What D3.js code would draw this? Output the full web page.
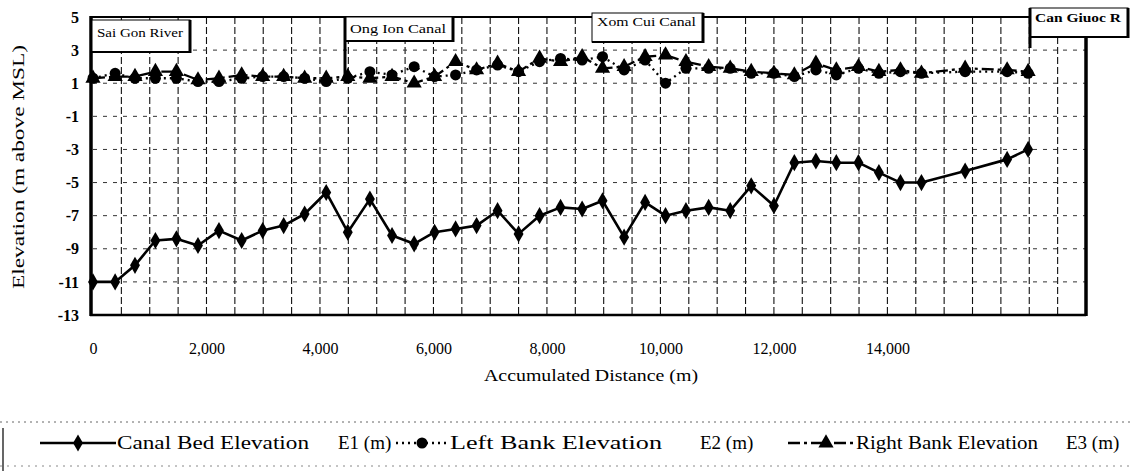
<!DOCTYPE html>
<html><head><meta charset="utf-8">
<script src="https://cdn.jsdelivr.net/npm/d3@7"></script>
<style>
html,body{margin:0;padding:0;background:#fff;}
svg text{font-family:"Liberation Serif","Times New Roman",Tinos,"DejaVu Serif",serif !important;}
</style></head>
<body><svg id="c" width="1130" height="471"></svg>
<script>
// Accumulated distance (m) of each cross-section
const distance = [0,390,740,1100,1470,1850,2220,2620,2990,3360,3730,4110,4490,4880,5270,5660,6020,6390,6760,7130,7500,7870,8240,8620,8980,9360,9730,10090,10450,10850,11230,11600,12000,12360,12740,13100,13490,13850,14230,14600,15370,16110,16480];
// Canal bed elevation E1 (m)
const bedE1 = [-11.0,-11.0,-10.0,-8.5,-8.4,-8.8,-7.9,-8.5,-7.9,-7.6,-6.9,-5.6,-8.0,-6.0,-8.2,-8.7,-8.0,-7.8,-7.6,-6.7,-8.1,-7.0,-6.5,-6.6,-6.1,-8.3,-6.2,-7.0,-6.7,-6.5,-6.7,-5.2,-6.4,-3.8,-3.7,-3.8,-3.8,-4.4,-5.0,-5.0,-4.3,-3.6,-3.0];
// Left bank elevation E2 (m)
const leftE2 = [1.3,1.6,1.3,1.3,1.3,1.1,1.1,1.3,1.4,1.4,1.3,1.1,1.3,1.7,1.5,2.0,1.4,1.5,1.8,2.1,1.7,2.3,2.5,2.4,2.6,1.8,2.4,1.0,1.9,1.9,1.9,1.6,1.6,1.4,1.8,1.5,1.9,1.6,1.7,1.6,1.7,1.7,1.6];
// Right bank elevation E3 (m)
const rightE3 = [1.3,1.4,1.4,1.7,1.7,1.2,1.3,1.5,1.4,1.4,1.3,1.3,1.4,1.3,1.4,1.0,1.4,2.3,1.8,2.2,1.7,2.5,2.3,2.6,1.9,2.0,2.6,2.7,2.3,2.0,1.9,1.7,1.6,1.5,2.2,1.8,2.0,1.7,1.8,1.6,1.9,1.8,1.7];
const xTicks = [0,2000,4000,6000,8000,10000,12000,14000];
const yTicks = [-13,-11,-9,-7,-5,-3,-1,1,3,5];
const places = ["Sai Gon River","Ong Ion Canal","Xom Cui Canal","Can Giuoc R"];
const legendLabels = ["Canal Bed Elevation","Left Bank Elevation","Right Bank Elevation"];
const legendCodes = ["E1 (m)","E2  (m)","E3 (m)"];
const seriesKeys = ["bed","left","right"];

const svg = d3.select("#c");
const x = d3.scaleLinear().domain([0,17500]).range([93,1086]);
const y = d3.scaleLinear().domain([-13,5]).range([315,17]);

const styles = {
  bed:{dash:null, w:2.6, sym:d3.symbolDiamond, size:85},
  left:{dash:"2,4", w:2.3, sym:d3.symbolCircle, size:95},
  right:{dash:"12,4,3,4", w:2.3, sym:d3.symbolTriangle, size:100}
};

// grid
const grid = svg.append("g");
grid.selectAll(".vg").data(d3.range(500,17500,500)).join("line")
  .attr("x1",d=>x(d)).attr("x2",d=>x(d)).attr("y1",y(5)).attr("y2",y(-13))
  .attr("stroke","#111").attr("stroke-width",1.1).attr("stroke-dasharray","7,3");
grid.selectAll(".hg").data(d3.range(-11,5,2)).join("line")
  .attr("x1",x(0)).attr("x2",x(17500)).attr("y1",d=>y(d)).attr("y2",d=>y(d))
  .attr("stroke","#333").attr("stroke-width",1).attr("stroke-dasharray","4,6");

// frame
svg.append("line").attr("x1",91).attr("x2",91).attr("y1",y(5)-1).attr("y2",y(-13)+1).attr("stroke","#000").attr("stroke-width",3.5);
svg.append("line").attr("x1",90).attr("x2",x(17500)).attr("y1",y(-13)).attr("y2",y(-13)).attr("stroke","#000").attr("stroke-width",2.5);
svg.append("line").attr("x1",90).attr("x2",x(17500)).attr("y1",y(5)).attr("y2",y(5)).attr("stroke","#000").attr("stroke-width",2);
svg.append("line").attr("x1",x(17500)).attr("x2",x(17500)).attr("y1",37).attr("y2",y(-13)+1).attr("stroke","#000").attr("stroke-width",3.5);

// axes
const xa = svg.append("g").attr("transform","translate(0,343)")
  .call(d3.axisBottom(x).tickValues(xTicks).tickSize(0).tickPadding(0).tickFormat(d3.format(",")));
xa.select(".domain").remove();
xa.selectAll("text").attr("font-size",16).attr("fill","#000");
const ya = svg.append("g").attr("transform","translate(79,0)")
  .call(d3.axisLeft(y).tickValues(yTicks).tickSize(0).tickPadding(0).tickFormat(d=>d));
ya.select(".domain").remove();
ya.selectAll("text").attr("font-size",16).attr("font-weight","bold").attr("fill","#000");

svg.append("text").attr("x",591).attr("y",381).attr("text-anchor","middle")
  .attr("font-size",16).attr("textLength",214).attr("lengthAdjust","spacingAndGlyphs").text("Accumulated Distance (m)");
svg.append("text").attr("transform","translate(24,167) rotate(-90)").attr("text-anchor","middle")
  .attr("font-size",17).attr("textLength",244).attr("lengthAdjust","spacingAndGlyphs").text("Elevation (m above MSL)");

// series
const series = {bed:bedE1, left:leftE2, right:rightE3};
const line = d3.line().x(d=>x(d[0])).y(d=>y(d[1]));
["right","left","bed"].forEach(k=>{
  const pts = distance.map((d,i)=>[d,series[k][i]]);
  const st = styles[k];
  svg.append("path").datum(pts).attr("d",line).attr("fill","none").attr("stroke","#000")
    .attr("stroke-width",st.w).attr("stroke-dasharray",st.dash).attr("stroke-linejoin","round");
  svg.append("g").selectAll("path").data(pts).join("path")
    .attr("transform",d=>`translate(${x(d[0])},${y(d[1])})`)
    .attr("d",d3.symbol().type(st.sym).size(st.size)).attr("fill","#000");
});

// place annotations
const boxes = [
  {x0:92, x1:190, y0:20, y1:52, ty:37, lead:null},
  {x0:345, x1:453, y0:17, y1:41, ty:33, lead:78},
  {x0:592, x1:703, y0:13, y1:42, ty:26, lead:null},
  {x0:1030, x1:1128, y0:8, y1:37, ty:22, lead:48}
];
const ag = svg.append("g");
boxes.forEach((b,i)=>{
  ag.append("rect").attr("x",b.x0).attr("y",b.y0).attr("width",b.x1-b.x0).attr("height",b.y1-b.y0)
    .attr("fill","#fff").attr("stroke","#000").attr("stroke-width",1);
  ag.append("line").attr("x1",b.x1).attr("x2",b.x1).attr("y1",b.y0).attr("y2",b.y1+1).attr("stroke","#000").attr("stroke-width",3);
  ag.append("line").attr("x1",b.x0).attr("x2",b.x1).attr("y1",b.y1).attr("y2",b.y1).attr("stroke","#000").attr("stroke-width",2);
  if(b.lead) ag.append("line").attr("x1",b.x0).attr("x2",b.x0).attr("y1",b.y0).attr("y2",b.lead).attr("stroke","#000").attr("stroke-width",3);
  ag.append("text").attr("x",b.x0+5).attr("y",b.ty).attr("font-size",13)
    .attr("font-weight",i===3?"bold":"normal")
    .attr("textLength",(b.x1-b.x0)-12).attr("lengthAdjust","spacingAndGlyphs").text(places[i]);
});

// legend
const lg = svg.append("g");
lg.append("line").attr("x1",0).attr("x2",1130).attr("y1",422).attr("y2",422).attr("stroke","#666").attr("stroke-dasharray","2,4");
lg.append("line").attr("x1",0).attr("x2",1130).attr("y1",466).attr("y2",466).attr("stroke","#888").attr("stroke-dasharray","2,5");
lg.append("line").attr("x1",3).attr("x2",3).attr("y1",428).attr("y2",471).attr("stroke","#000").attr("stroke-width",1.2);
const legPos = [
  {lx0:40, lx1:116, sx:78, tx:117, tw:192, cx:338},
  {lx0:396, lx1:446, sx:422, tx:450, tw:212, cx:700},
  {lx0:788, lx1:853, sx:826, tx:856, tw:182, cx:1066}
];
seriesKeys.forEach((k,i)=>{
  const p = legPos[i], st = styles[k];
  lg.append("line").attr("x1",p.lx0).attr("x2",p.lx1).attr("y1",443).attr("y2",443)
    .attr("stroke","#000").attr("stroke-width",st.w).attr("stroke-dasharray",st.dash);
  lg.append("path").attr("transform",`translate(${p.sx},443)`).attr("d",d3.symbol().type(st.sym).size(st.size)).attr("fill","#000");
  lg.append("text").attr("x",p.tx).attr("y",449).attr("font-size",18)
    .attr("textLength",p.tw).attr("lengthAdjust","spacingAndGlyphs").text(legendLabels[i]);
  lg.append("text").attr("x",p.cx).attr("y",449).attr("font-size",19).text(legendCodes[i]);
});
</script></body></html>
